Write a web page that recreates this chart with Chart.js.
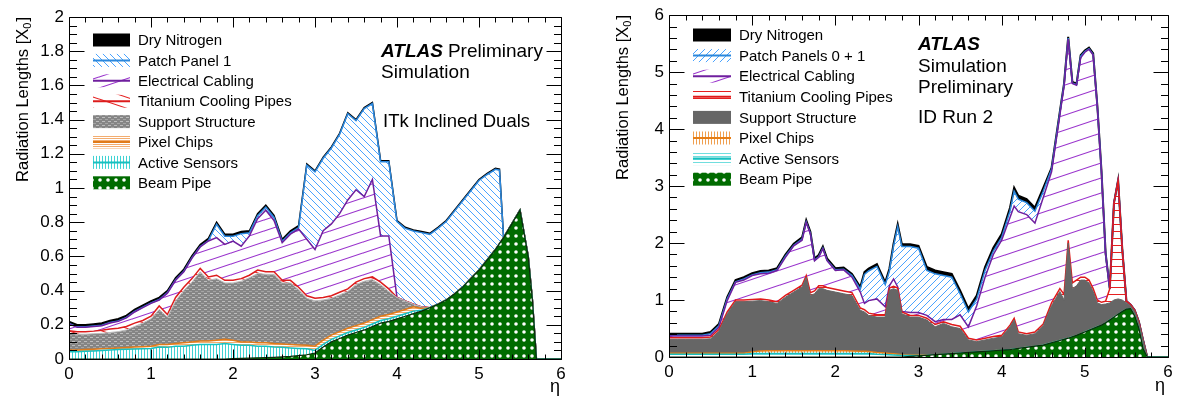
<!DOCTYPE html>
<html><head><meta charset="utf-8">
<script src="https://cdn.jsdelivr.net/npm/chart.js@4.4.1/dist/chart.umd.min.js"></script>
<style>
html,body{margin:0;padding:0;background:#fff;}
#wrap{position:relative;width:1181px;height:398px;overflow:hidden;background:#fff;}
canvas{position:absolute;top:0;}
#c1{left:0;width:600px;height:398px;} #c2{left:600px;width:581px;height:398px;}
</style></head><body>
<div id="wrap"><canvas id="c1" width="600" height="398"></canvas><canvas id="c2" width="581" height="398"></canvas></div>
<script>
// ---------- DATA: left panel (ITk Inclined Duals) ----------
const etaL = [0,0.1,0.2,0.3,0.4,0.5,0.6,0.7,0.8,0.9,
  1,1.1,1.2,1.3,1.4,1.5,1.6,1.7,1.8,1.9,
  2,2.1,2.2,2.3,2.4,2.5,2.6,2.7,2.8,2.9,
  3,3.1,3.2,3.3,3.4,3.5,3.6,3.7,3.8,3.9,
  4,4.1,4.2,4.3,4.4,4.5,4.6,4.7,4.8,4.9,
  5,5.1,5.2,5.25,5.3,5.4,5.5,5.6,5.65,5.7,5.8,5.9,6];
const beamPipeL = [0,0,0,0,0,0,0,0,0,0,
  0,0,0,0,0,0,0,0,0,0,
  0.003,0.004,0.005,0.007,0.008,0.010,0.012,0.015,0.020,0.025,
  0.035,0.070,0.100,0.120,0.140,0.155,0.170,0.190,0.210,0.220,
  0.235,0.250,0.265,0.280,0.300,0.320,0.345,0.380,0.420,0.470,
  0.520,0.580,0.640,0.675,0.710,0.790,0.870,0.600,0.350,0,0,0,0];
const activeSensorsL = [0.043,0.043,0.045,0.047,0.050,0.052,0.055,0.057,0.058,0.060,
  0.062,0.070,0.068,0.075,0.075,0.080,0.085,0.085,0.085,0.090,
  0.082,0.076,0.075,0.068,0.067,0.060,0.056,0.050,0.042,0.035,
  0.015,0.015,0.015,0.015,0.015,0.015,0.015,0.015,0.015,0.015,
  0.015,0.015,0.015,0.005,0,0,0,0,0,0,
  0,0,0,0,0,0,0,0,0,0,0,0,0];
const pixelChipsL = [0.010,0.010,0.010,0.010,0.010,0.010,0.010,0.010,0.012,0.012,
  0.013,0.015,0.017,0.015,0.020,0.020,0.020,0.020,0.025,0.025,
  0.025,0.020,0.020,0.020,0.020,0.020,0.020,0.020,0.020,0.020,
  0.025,0.025,0.025,0.025,0.025,0.025,0.025,0.025,0.025,0.025,
  0.025,0.025,0.025,0.010,0,0,0,0,0,0,
  0,0,0,0,0,0,0,0,0,0,0,0,0];
const supportStructureL = [0.097,0.092,0.090,0.091,0.090,0.093,0.095,0.103,0.120,0.138,
  0.160,0.205,0.160,0.250,0.305,0.350,0.405,0.355,0.360,0.330,
  0.335,0.355,0.375,0.405,0.400,0.405,0.357,0.360,0.323,0.275,
  0.265,0.235,0.215,0.215,0.215,0.240,0.245,0.235,0.185,0.135,
  0.085,0.050,0.015,0.010,0,0,0,0,0,0,
  0,0,0,0,0,0,0,0,0,0,0,0,0];
const titaniumPipesL = [0.015,0.015,0.015,0.015,0.018,0.020,0.020,0.020,0.020,0.015,
  0.015,0.020,0.015,0.020,0.020,0.020,0.020,0.020,0.020,0.015,
  0.015,0.015,0.015,0.020,0.015,0.015,0.015,0.015,0.015,0.015,
  0.015,0.015,0.015,0.015,0.015,0.015,0.015,0.015,0.015,0.015,
  0,0,0,0,0,0,0,0,0,0,
  0,0,0,0,0,0,0,0,0,0,0,0,0];
const electricalCablingL = [0.040,0.025,0.025,0.027,0.027,0.035,0.040,0.050,0.065,0.075,
  0.075,0.035,0.125,0.100,0.090,0.120,0.125,0.210,0.220,0.210,
  0.230,0.190,0.230,0.300,0.360,0.300,0.220,0.270,0.340,0.330,
  0.285,0.390,0.420,0.460,0.520,0.540,0.480,0.570,0.270,0.310,
  0,0,0,0,0,0,0,0,0,0,
  0,0,0,0,0,0,0,0,0,0,0,0,0];
const patchPanelL = [0.003,0.003,0.003,0.003,0.003,0.003,0.003,0.003,0.003,0.003,
  0.003,0.003,0.003,0.003,0.003,0.003,0.003,0.003,0.078,0.048,
  0.028,0.073,0.018,0.018,0.018,0.018,0.008,0.008,0.008,0.434,
  0.454,0.424,0.444,0.464,0.504,0.404,0.514,0.444,0.434,0.434,
  0.444,0.424,0.429,0.434,0.429,0.444,0.459,0.484,0.504,0.514,
  0.524,0.499,0.469,0.429,0,0,0,0,0,0,0,0,0];
const dryNitrogenL = [0.012,0.012,0.012,0.012,0.012,0.012,0.012,0.012,0.012,0.012,
  0.012,0.012,0.012,0.012,0.012,0.012,0.012,0.012,0.012,0.012,
  0.012,0.012,0.012,0.012,0.012,0.012,0.012,0.012,0.012,0.006,
  0.006,0.006,0.006,0.006,0.006,0.006,0.006,0.006,0.006,0.006,
  0.006,0.006,0.006,0.006,0.006,0.006,0.006,0.006,0.006,0.006,
  0.006,0.006,0.006,0.006,0,0,0,0,0,0,0,0,0];

// ---------- DATA: right panel (ID Run 2) ----------
const etaR = [0,0.1,0.2,0.3,0.4,0.5,0.6,0.7,0.8,0.9,
  1,1.1,1.2,1.3,1.4,1.5,1.6,1.65,1.7,1.75,
  1.8,1.85,1.9,2,2.1,2.2,2.3,2.35,2.4,2.5,
  2.6,2.65,2.7,2.75,2.8,2.9,3,3.1,3.2,3.3,
  3.4,3.5,3.6,3.7,3.8,3.9,4,4.1,4.15,4.2,
  4.3,4.4,4.5,4.6,4.7,4.75,4.8,4.85,4.9,4.95,
  5,5.05,5.1,5.15,5.2,5.25,5.3,5.35,5.4,5.45,
  5.5,5.55,5.6,5.65,5.7,5.75,5.8,5.9,6];
const beamPipeR = [0,0,0,0,0,0,0,0,0,0,
  0,0,0,0,0,0,0,0,0,0,
  0,0,0,0,0,0,0,0,0,0,
  0,0,0,0,0,0.01,0.02,0.03,0.04,0.05,
  0.06,0.07,0.08,0.09,0.10,0.11,0.12,0.13,0.14,0.15,
  0.17,0.19,0.21,0.25,0.29,0.31,0.33,0.355,0.38,0.41,
  0.44,0.47,0.50,0.53,0.56,0.60,0.65,0.70,0.75,0.80,
  0.84,0.85,0.72,0.50,0.15,0,0,0,0];
const activeSensorsR = [0.05,0.05,0.05,0.05,0.05,0.05,0.05,0.05,0.05,0.05,
  0.06,0.06,0.06,0.06,0.06,0.06,0.06,0.06,0.06,0.06,
  0.06,0.06,0.06,0.06,0.06,0.06,0.06,0.06,0.06,0.05,
  0.045,0.04,0.035,0.03,0.025,0.015,0.008,0,0,0,
  0,0,0,0,0,0,0,0,0,0,
  0,0,0,0,0,0,0,0,0,0,
  0,0,0,0,0,0,0,0,0,0,
  0,0,0,0,0,0,0,0,0];
const pixelChipsR = [0.015,0.015,0.015,0.015,0.015,0.015,0.015,0.015,0.015,0.015,
  0.03,0.045,0.05,0.05,0.05,0.05,0.05,0.05,0.05,0.05,
  0.05,0.05,0.05,0.05,0.05,0.045,0.04,0.04,0.035,0.03,
  0.025,0.022,0.02,0.018,0.015,0.01,0.005,0,0,0,
  0,0,0,0,0,0,0,0,0,0,
  0,0,0,0,0,0,0,0,0,0,
  0,0,0,0,0,0,0,0,0,0,
  0,0,0,0,0,0,0,0,0];
const supportStructureR = [0.245,0.245,0.245,0.245,0.245,0.255,0.385,0.695,0.905,0.905,
  0.89,0.885,0.86,0.83,0.94,1.03,1.12,1.29,0.97,1.00,
  1.09,1.09,1.06,1.03,1.00,0.975,0.72,0.69,0.635,0.62,
  0.63,1.108,1.145,1.122,0.72,0.665,0.667,0.62,0.49,0.54,
  0.47,0.43,0.22,0.18,0.20,0.22,0.23,0.40,0.51,0.26,
  0.21,0.22,0.34,0.65,0.86,0.69,1.67,0.845,0.87,0.94,
  0.91,0.83,0.65,0.42,0.36,0.33,0.30,0.30,0.27,0.20,
  0.11,0.05,0.08,0.10,0.15,0,0,0,0];
const titaniumPipesR = [0.03,0.03,0.03,0.03,0.03,0.03,0.03,0.03,0.03,0.03,
  0.03,0.03,0.03,0.03,0.03,0.03,0.03,0.03,0.05,0.05,
  0.05,0.05,0.05,0.05,0.05,0.05,0.04,0.04,0.04,0.04,
  0.04,0.04,0.04,0.04,0.03,0.03,0.03,0.03,0.04,0.03,
  0.04,0.04,0.03,0.03,0.03,0.03,0.03,0.03,0.03,0.03,
  0.03,0.03,0.03,0.05,0.05,0.10,0.05,0.10,0.10,0.05,
  0.05,0.05,0.05,0.05,0.04,0.05,0.25,1.70,2.08,0.90,
  0.03,0.02,0.02,0.02,0,0,0,0,0];
const electricalCablingR = [0.03,0.03,0.03,0.03,0.03,0.03,0.04,0.20,0.31,0.35,
  0.42,0.44,0.47,0.55,0.67,0.78,0.79,0.93,1.03,0.53,
  0.50,0.65,0.47,0.33,0.37,0.27,0.28,0.11,0.22,0.28,
  0.14,0.04,0.13,0.02,0.01,0.05,0.05,0.05,0.05,0.04,
  0.09,0.20,0.20,0.60,1.07,1.44,1.67,1.89,1.97,2.11,
  2.09,1.91,2.22,2.30,3.05,3.65,3.53,3.50,3.42,3.85,
  3.95,4.05,4.10,3.40,2.29,0.82,0,0,0,0,
  0,0,0,0,0,0,0,0,0];
const patchPanelsR = [0.01,0.01,0.01,0.01,0.01,0.03,0.03,0.03,0.01,0.02,
  0.01,0.02,0.02,0.01,0.02,0.01,0.02,0.01,0.01,0.01,
  0.01,0.01,0.01,0.01,0.01,0.03,0.05,0.51,0.52,0.57,
  0.39,0.26,0.58,1.06,1.14,1.16,1.13,0.79,0.84,0.77,
  0.74,0.37,0.26,0.12,0.12,0.06,0.05,0.11,0.26,0.22,
  0.21,0.21,0.11,0.05,0.04,0.03,0.02,0.01,0.01,0.03,
  0.01,0.01,0.01,0,0,0,0,0,0,0,
  0,0,0,0,0,0,0,0,0];
const dryNitrogenR = [0.03,0.03,0.03,0.03,0.03,0.03,0.03,0.03,0.03,0.03,
  0.03,0.03,0.03,0.03,0.03,0.03,0.03,0.03,0.03,0.03,
  0.03,0.03,0.03,0.03,0.03,0.03,0.04,0.04,0.04,0.04,
  0.04,0.04,0.04,0.04,0.04,0.04,0.04,0.06,0.06,0.06,
  0.06,0.06,0.06,0.06,0.06,0.06,0.06,0.06,0.06,0.06,
  0.06,0.06,0.06,0.02,0.02,0.02,0.02,0.02,0.02,0.02,
  0.02,0.02,0.02,0.02,0.02,0.02,0,0,0,0,
  0,0,0,0,0,0,0,0,0];

const labelsL = ['Beam Pipe','Active Sensors','Pixel Chips','Support Structure','Titanium Cooling Pipes','Electrical Cabling','Patch Panel 1','Dry Nitrogen'];
const labelsR = ['Beam Pipe','Active Sensors','Pixel Chips','Support Structure','Titanium Cooling Pipes','Electrical Cabling','Patch Panels 0 + 1','Dry Nitrogen'];

// ---------- styling helpers ----------
const FONT = '"Liberation Sans", Arimo, Helvetica, Arial, sans-serif';
const pctx = document.createElement('canvas').getContext('2d');
function tile(w, h, fn){ const c=document.createElement('canvas'); c.width=w; c.height=h; const g=c.getContext('2d'); fn(g,w,h); return pctx.createPattern(c,'repeat'); }
function diag(color, w, h, up, lw){ return tile(w,h,(g)=>{ g.strokeStyle=color; g.lineWidth=lw;
  for(const dx of [-w,0,w]) for(const dy of [-h,0,h]){ g.beginPath();
    if(up){ g.moveTo(dx,dy+h); g.lineTo(dx+w,dy);} else { g.moveTo(dx,dy); g.lineTo(dx+w,dy+h);} g.stroke(); } }); }
function hlines(color, sp, lw){ return tile(4,sp,(g,w,h)=>{ g.fillStyle=color; g.fillRect(0,0,w,lw); }); }
function vlines(color, sp, lw){ return tile(sp,4,(g,w,h)=>{ g.fillStyle=color; g.fillRect(0,0,lw,h); }); }
function dots(){ return tile(8,8,(g)=>{ g.fillStyle='#006b00'; g.fillRect(0,0,8,8); g.fillStyle='#fff';
  g.beginPath(); g.arc(4,4,1.8,0,Math.PI*2); g.fill(); }); }
function grayHatch(){ return tile(6,4,(g)=>{ g.fillStyle='#858585'; g.fillRect(0,0,6,4); g.fillStyle='#bdbdbd'; g.fillRect(0,1,3,1); g.fillStyle='#a5a5a5'; g.fillRect(3,3,3,1); }); }

const stylesL = [
  {fill:dots(), border:'#0b2a0b', bw:1.2, line:false},
  {fill:vlines('#3fd3d3',3,1), border:'#18c0c0', bw:1.5, line:true},
  {fill:hlines('#f3ad70',2,1), border:'#e07b1a', bw:1.5, line:true},
  {fill:grayHatch(), border:'#bdbdbd', bw:1, line:false},
  {fill:diag('#e52222',33,11,false,1.1), border:'#dd1c1c', bw:1.5, line:true},
  {fill:diag('#9932cc',33,11,true,1.1), border:'#6f1f9e', bw:1.5, line:true},
  {fill:diag('#4aa3ff',7,7,false,1), border:'#2b87dc', bw:1.5, line:true},
  {fill:'#000', border:'#000', bw:1.5, line:false}
];
const stylesR = [
  {fill:dots(), border:'#0b2a0b', bw:1.2, line:false},
  {fill:hlines('#70dede',3,1), border:'#18c0c0', bw:1.5, line:true},
  {fill:vlines('#f0a050',3,1), border:'#e67e16', bw:1.5, line:true},
  {fill:'#666666', border:'#666666', bw:1, line:false},
  {fill:hlines('#e52020',7,1), border:'#e01b1b', bw:1.5, line:true},
  {fill:diag('#9932cc',45,15,true,1.1), border:'#6f1f9e', bw:1.5, line:true},
  {fill:diag('#4aa3ff',7,7,true,1), border:'#2b87dc', bw:1.5, line:true},
  {fill:'#000', border:'#000', bw:2, line:false}
];

function buildDatasets(eta, seriesList, labels, styles){
  return seriesList.map((vals,i)=>({
    label: labels[i],
    data: eta.map((x,j)=>({x:x, y:vals[j]})),
    backgroundColor: styles[i].fill,
    borderColor: styles[i].border,
    borderWidth: styles[i].bw,
    fill: i===0 ? 'origin' : '-1',
    pointRadius: 0, pointHoverRadius: 0, tension: 0,
    _legendLine: styles[i].line
  }));
}

function decor(cfg){
  return { id:'decor'+cfg.name, afterDraw(chart){
    const ctx=chart.ctx, a=chart.chartArea, xs=chart.scales.x, ys=chart.scales.y;
    ctx.save();
    ctx.strokeStyle='#000'; ctx.lineWidth=1;
    const L=Math.round(a.left)+0.5, R=Math.round(a.right)+0.5, T=Math.round(a.top)+0.5, B=Math.round(a.bottom)+0.5;
    ctx.beginPath(); ctx.rect(L,T,R-L,B-T); ctx.stroke();
    const seg=(x1,y1,x2,y2)=>{ctx.beginPath();ctx.moveTo(x1,y1);ctx.lineTo(x2,y2);ctx.stroke();};
    const nY=Math.round(cfg.yMax/cfg.yMinor);
    for(let k=0;k<=nY;k++){ const py=Math.round(ys.getPixelForValue(k*cfg.yMinor))+0.5; const len=(k%cfg.yPer===0)?cfg.yLenMaj:cfg.yLenMin; seg(L,py,L+len,py); seg(R,py,R-len,py); }
    const nX=Math.round(6/cfg.xMinor);
    for(let k=0;k<=nX;k++){ const px=Math.round(xs.getPixelForValue(k*cfg.xMinor))+0.5; const len=(k%cfg.xPer===0)?cfg.xLenMaj:cfg.xLenMin; seg(px,B,px,B-len); seg(px,T,px,T+len); }
    // legend
    const ds=chart.data.datasets.slice().reverse();
    ds.forEach((d,k)=>{ const yc=cfg.legend.y0+k*cfg.legend.dy; const x0=cfg.legend.x, w=cfg.legend.w;
      ctx.fillStyle=d.backgroundColor; ctx.fillRect(x0,yc-6.5,w,13);
      if(d._legendLine){ ctx.strokeStyle=d.borderColor; ctx.lineWidth=2; seg(x0,yc,x0+w,yc); }
      ctx.fillStyle='#000'; ctx.font='15px '+FONT; ctx.textBaseline='middle'; ctx.textAlign='left';
      ctx.fillText(d.label, cfg.legend.tx, yc+1);
    });
    // texts
    ctx.fillStyle='#000'; ctx.textBaseline='middle'; ctx.textAlign='left';
    cfg.texts.forEach(t=>{ ctx.font=t.f+' '+FONT; let x=t.x; ctx.fillText(t.t,x,t.y);
      if(t.next){ x+=ctx.measureText(t.t).width+5; ctx.font=t.next.f+' '+FONT; ctx.fillText(t.next.t,x,t.y);} });
    // eta
    ctx.font='18px '+FONT; ctx.textAlign='right'; ctx.fillText('η', cfg.eta.x, cfg.eta.y);
    // y title
    ctx.save(); ctx.translate(cfg.yTitle.x, cfg.yTitle.y); ctx.rotate(-Math.PI/2);
    const main='Radiation Lengths [X', sub='0', end=']';
    ctx.font='16.5px '+FONT; const wm=ctx.measureText(main).width, we=ctx.measureText(end).width;
    ctx.font='11px '+FONT; const wsub=ctx.measureText(sub).width;
    let x=-(wm+wsub+we+1); ctx.textAlign='left'; ctx.textBaseline='middle';
    ctx.font='16.5px '+FONT; ctx.fillText(main,x,0); x+=wm;
    ctx.font='11px '+FONT; ctx.fillText(sub,x,5); x+=wsub+1;
    ctx.font='16.5px '+FONT; ctx.fillText(end,x,0);
    ctx.restore();
    ctx.restore();
  }};
}

const fmtTick = (v) => String(Math.round(v*100)/100);

function makeChart(id, eta, series, labels, styles, cfg){
  return new Chart(document.getElementById(id), {
    type:'line',
    data:{ datasets: buildDatasets(eta, series, labels, styles) },
    options:{
      responsive:false, animation:false, devicePixelRatio:1,
      layout:{ padding:{ top:cfg.padTop, right:cfg.padRight, left:0, bottom:0 } },
      plugins:{ legend:{display:false}, tooltip:{enabled:false} },
      elements:{ line:{ borderJoinStyle:'miter' } },
      scales:{
        x:{ type:'linear', min:0, max:6, grid:{display:false, drawTicks:false}, border:{display:false},
            ticks:{ stepSize:1, padding:5, color:'#000', font:{family:FONT, size:17}, maxRotation:0, autoSkip:false, callback:fmtTick },
            afterFit:(s)=>{ s.height=cfg.xH; } },
        y:{ stacked:true, min:0, max:cfg.yMax, grid:{display:false, drawTicks:false}, border:{display:false},
            ticks:{ stepSize:cfg.yStep, padding:5, color:'#000', font:{family:FONT, size:17}, autoSkip:false, callback:fmtTick },
            afterFit:(s)=>{ s.width=cfg.yW; } }
      }
    },
    plugins:[decor(cfg)]
  });
}

makeChart('c1', etaL,
  [beamPipeL, activeSensorsL, pixelChipsL, supportStructureL, titaniumPipesL, electricalCablingL, patchPanelL, dryNitrogenL],
  labelsL, stylesL,
  { name:'L', padTop:17, padRight:39, xH:39, yW:69, yMax:2, yStep:0.2, yMinor:0.05, yPer:4, xMinor:0.2, xPer:5,
    yLenMaj:15, yLenMin:7.5, xLenMaj:10, xLenMin:5,
    legend:{x:93, w:37, tx:138, y0:40, dy:20.4},
    texts:[ {t:'ATLAS', f:'bold italic 19px', x:381, y:52, next:{t:'Preliminary', f:'19px'}},
            {t:'Simulation', f:'19px', x:381, y:73},
            {t:'ITk Inclined Duals', f:'18.5px', x:383, y:122} ],
    eta:{x:560, y:387}, yTitle:{x:23, y:17} });

makeChart('c2', etaR,
  [beamPipeR, activeSensorsR, pixelChipsR, supportStructureR, titaniumPipesR, electricalCablingR, patchPanelsR, dryNitrogenR],
  labelsR, stylesR,
  { name:'R', padTop:13, padRight:13, xH:41, yW:69, yMax:6, yStep:1, yMinor:0.2, yPer:5, xMinor:0.2, xPer:5,
    yLenMaj:15, yLenMin:7.5, xLenMaj:10, xLenMin:5,
    legend:{x:93, w:38, tx:139, y0:35, dy:20.6},
    texts:[ {t:'ATLAS', f:'bold italic 19px', x:318, y:45},
            {t:'Simulation', f:'19px', x:318, y:67},
            {t:'Preliminary', f:'19px', x:318, y:88},
            {t:'ID Run 2', f:'19px', x:318, y:118} ],
    eta:{x:565, y:386}, yTitle:{x:23, y:15} });
</script>
</body></html>
